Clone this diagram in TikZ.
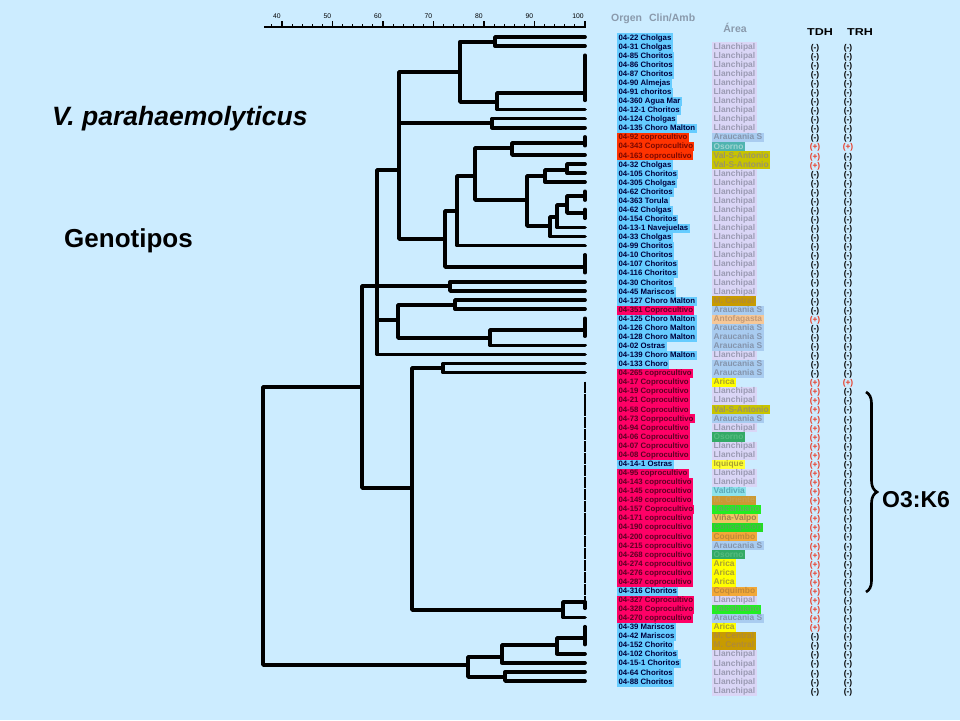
\documentclass[tikz,border=0pt]{standalone}
\usepackage{fontspec}
\usepackage{graphicx}
\setmainfont{Liberation Sans}
\usetikzlibrary{decorations.pathreplacing}
\definecolor{bgc}{HTML}{CCECFF}
\definecolor{obb}{HTML}{66CCFF}\definecolor{otb}{HTML}{00003C}
\definecolor{obo}{HTML}{FF3300}\definecolor{oto}{HTML}{7A0800}
\definecolor{obm}{HTML}{FF0066}\definecolor{otm}{HTML}{5C0022}
\definecolor{abll}{HTML}{DAD6F6}\definecolor{atll}{HTML}{9A9AB2}
\definecolor{abar}{HTML}{A9CCF0}\definecolor{atar}{HTML}{8494AC}
\definecolor{abos}{HTML}{4FB4B0}\definecolor{atos}{HTML}{9FD4D0}
\definecolor{abva}{HTML}{C8C400}\definecolor{atva}{HTML}{9A9468}
\definecolor{abmc}{HTML}{C89B00}\definecolor{atmc}{HTML}{B08A38}
\definecolor{aban}{HTML}{F6C898}\definecolor{atan}{HTML}{C29A78}
\definecolor{abri}{HTML}{FFFF00}\definecolor{atri}{HTML}{A8A030}
\definecolor{abgr}{HTML}{33AA66}\definecolor{atgr}{HTML}{55BB80}
\definecolor{abiq}{HTML}{FFFF33}\definecolor{atiq}{HTML}{A8A030}
\definecolor{abvd}{HTML}{8EE4EC}\definecolor{atvd}{HTML}{5AA8B8}
\definecolor{abmo}{HTML}{CC9933}\definecolor{atmo}{HTML}{C8A050}
\definecolor{abta}{HTML}{22EE22}\definecolor{atta}{HTML}{60B060}
\definecolor{abvv}{HTML}{F2C462}\definecolor{atvv}{HTML}{A08050}
\definecolor{abco}{HTML}{22DD22}\definecolor{atco}{HTML}{50B050}
\definecolor{abcq}{HTML}{F2A838}\definecolor{atcq}{HTML}{C08838}
\definecolor{hdrgray}{HTML}{8A9AAC}
\definecolor{plusred}{HTML}{E83C28}
\begin{document}
\begin{tikzpicture}[x=1pt,y=-1pt,
  dend/.style={line width=3.7pt,line cap=round,line join=round},
  clus/.style={line width=3.3pt,line cap=round},
  org/.style={anchor=west,inner xsep=1.3pt,inner ysep=0pt,minimum height=9.07pt,font=\fontsize{7.8}{8}\selectfont\bfseries,text height=5.7pt,text depth=1.4pt},
  area/.style={anchor=west,inner xsep=1.4pt,inner ysep=0pt,minimum height=9.07pt,font=\fontsize{8.4}{9}\selectfont\bfseries,text height=6.1pt,text depth=1.6pt},
  sgn/.style={font=\fontsize{8.4}{9}\selectfont\bfseries,inner sep=0pt},
  hdr/.style={font=\fontsize{10.5}{12}\selectfont\bfseries,text=hdrgray,inner sep=0pt},
  big/.style={inner sep=0pt,anchor=west}]
\useasboundingbox (0,0) rectangle (960,720);
\fill[bgc] (0,0) rectangle (960,720);

% titles
\node[big,font=\fontsize{26.5}{30}\selectfont\bfseries\itshape] (title) at (52,119) {V. parahaemolyticus};
\node[big,font=\fontsize{26}{30}\selectfont\bfseries] (geno) at (64,241) {Genotipos};
\node[big,font=\fontsize{23}{26}\selectfont\bfseries] (o3k6) at (882,500) {O3:K6};

% scale
\draw[line width=1.8pt] (264,27) -- (586,27);
\foreach \u in {38,40,...,100} \draw[line width=1.1pt] ({282+(\u-40)*5.05},27) -- ({282+(\u-40)*5.05},23.5);
\foreach \u in {40,50,...,100}{
  \draw[line width=1.2pt] ({282+(\u-40)*5.05},27) -- ({282+(\u-40)*5.05},21);
  \node[anchor=east,inner sep=0pt,font=\fontsize{6.8}{7}\selectfont] (s\u) at ({282+(\u-40)*5.05-1.2},16.5) {\u};
}

% headers
\node[hdr,anchor=west] (hOrg) at (611,19) {Orgen\hspace{7pt}Clin/Amb};
\node[hdr] (hArea) at (735,28) {Área};
\node[font=\fontsize{10}{11}\selectfont\bfseries,inner sep=0pt] (hTDH) at (820,32) {\scalebox{1.25}[1]{TDH}};
\node[font=\fontsize{10}{11}\selectfont\bfseries,inner sep=0pt] (hTRH) at (860,32) {\scalebox{1.25}[1]{TRH}};

% origin labels
\foreach \t/\c [count=\i] in {04-22 Cholgas/b,04-31 Cholgas/b,04-85 Choritos/b,04-86 Choritos/b,04-87 Choritos/b,04-90 Almejas/b,04-91 choritos/b,04-360 Agua Mar/b,04-12-1 Choritos/b,04-124 Cholgas/b,04-135 Choro Malton/b,04-92 coprocultivo/o,04-343 Coprocultivo/o,04-163 coprocultivo/o,04-32 Cholgas/b,04-105 Choritos/b,04-305 Cholgas/b,04-62 Choritos/b,04-363 Torula/b,04-62 Cholgas/b,04-154 Choritos/b,04-13-1 Navejuelas/b,04-33 Cholgas/b,04-99 Choritos/b,04-10 Choritos/b,04-107 Choritos/b,04-116 Choritos/b,04-30 Choritos/b,04-45 Mariscos/b,04-127 Choro Malton/b,04-351 Coprocultivo/m,04-125 Choro Malton/b,04-126 Choro Malton/b,04-128 Choro Malton/b,04-02 Ostras/b,04-139 Choro Malton/b,04-133 Choro/b,04-265 coprocultivo/m,04-17 Coprocultivo/m,04-19 Coprocultivo/m,04-21 Coprocultivo/m,04-58 Coprocultivo/m,04-73 Coprpocultivo/m,04-94 Coprocultivo/m,04-06 Coprocultivo/m,04-07 Coprocultivo/m,04-08 Coprocultivo/m,04-14-1 Ostras/b,04-95 coprocultivo/m,04-143 coprocultivo/m,04-145 coprocultivo/m,04-149 coprocultivo/m,04-157 Coprocultivo/m,04-171 coprocultivo/m,04-190 coprocultivo/m,04-200 coprocultivo/m,04-215 coprocultivo/m,04-268 coprocultivo/m,04-274 coprocultivo/m,04-276 coprocultivo/m,04-287 coprocultivo/m,04-316 Choritos/b,04-327 Coprocultivo/m,04-328 Coprocultivo/m,04-270 coprocultivo/m,04-39 Mariscos/b,04-42 Mariscos/b,04-152 Chorito/b,04-102 Choritos/b,04-15-1 Choritos/b,04-64 Choritos/b,04-88 Choritos/b}
  \node[org,fill=ob\c,text=ot\c] (o\i) at (617,{38+(\i-1)*9.07}) {\t};

% area labels
\foreach \t/\c [count=\j] in {Llanchipal/ll,Llanchipal/ll,Llanchipal/ll,Llanchipal/ll,Llanchipal/ll,Llanchipal/ll,Llanchipal/ll,Llanchipal/ll,Llanchipal/ll,Llanchipal/ll,Araucania S/ar,Osorno/os,Val-S-Antonio/va,Val-S-Antonio/va,Llanchipal/ll,Llanchipal/ll,Llanchipal/ll,Llanchipal/ll,Llanchipal/ll,Llanchipal/ll,Llanchipal/ll,Llanchipal/ll,Llanchipal/ll,Llanchipal/ll,Llanchipal/ll,Llanchipal/ll,Llanchipal/ll,Llanchipal/ll,M. Central/mc,Araucania S/ar,Antofagasta/an,Araucania S/ar,Araucania S/ar,Araucania S/ar,Llanchipal/ll,Araucania S/ar,Araucania S/ar,Arica/ri,Llanchipal/ll,Llanchipal/ll,Val-S-Antonio/va,Araucania S/ar,Llanchipal/ll,Osorno/gr,Llanchipal/ll,Llanchipal/ll,Iquique/iq,Llanchipal/ll,Llanchipal/ll,Valdivia/vd,M. Oriente/mo,Talcahuano/ta,Viña-Valpo/vv,Concepcion/co,Coquimbo/cq,Araucania S/ar,Osorno/gr,Arica/ri,Arica/ri,Arica/ri,Coquimbo/cq,Llanchipal/ll,Talcahuano/ta,Araucania S/ar,Arica/ri,M. Central/mc,M. Central/mc,Llanchipal/ll,Llanchipal/ll,Llanchipal/ll,Llanchipal/ll,Llanchipal/ll}
  \node[area,fill=ab\c,text=at\c] (a\j) at (712,{47+(\j-1)*9.07}) {\t};

% TDH / TRH
\foreach \j in {1,...,72}{
  \pgfmathtruncatemacro\tp{(\j==12)||(\j==13)||(\j==14)||(\j==31)||((\j>37)&&(\j<66))}
  \pgfmathtruncatemacro\rp{(\j==12)||(\j==38)}
  \node[sgn] (td\j) at (815,{48+(\j-1)*9.07}) {\ifnum\tp=1 \textcolor{plusred}{(+)}\else (-)\fi};
  \node[sgn] (tr\j) at (848,{48+(\j-1)*9.07}) {\ifnum\rp=1 \textcolor{plusred}{(+)}\else (-)\fi};
}

% brace
\coordinate (brTop) at (866,392);
\coordinate (brBot) at (866,592);
\draw[decorate,decoration={brace,amplitude=11pt},line width=2.6pt] (brTop) -- (brBot);

% dendrogram coordinates
\foreach \i in {1,...,72} \coordinate (L\i) at (585,{37+(\i-1)*9.07});
\coordinate (K3) at (585,93);
\coordinate (K12) at (585,143);
\coordinate (K18) at (585,196);
\coordinate (K20) at (585,213);
\coordinate (K25) at (585,267);
\coordinate (K32) at (585,330);
\coordinate (K39) at (585,602);
\coordinate (K66) at (585,638);
\coordinate (N1) at (495,41.7);
\coordinate (N2) at (497,102);
\coordinate (N3) at (460,72);
\coordinate (N4) at (492,123);
\coordinate (N5) at (512,148);
\coordinate (N6) at (567,170);
\coordinate (N7) at (545,176);
\coordinate (N8) at (567,205);
\coordinate (N9) at (557,217);
\coordinate (N10) at (550,226);
\coordinate (N11) at (527,200);
\coordinate (N12) at (475,176);
\coordinate (N13) at (457,211);
\coordinate (N14) at (445,239);
\coordinate (N15) at (399,170);
\coordinate (N16) at (450,286);
\coordinate (N17) at (455,305);
\coordinate (N18) at (490,338);
\coordinate (N19) at (398,320);
\coordinate (N20) at (377,286);
\coordinate (N21) at (443,368);
\coordinate (N22) at (563,610);
\coordinate (N23) at (412,488);
\coordinate (N24) at (362,387);
\coordinate (N25) at (557,645);
\coordinate (N26) at (502,657);
\coordinate (N27) at (505,677);
\coordinate (N28) at (468,665);
\coordinate (N29) at (263,526);

\draw[clus] (L3)--(L8) (L12)--(L13) (L18)--(L19) (L20)--(L21) (L25)--(L27) (L32)--(L34) (L66)--(L68);
\draw[line width=2.7pt,dash pattern=on 11pt off 0.9pt] (L39)--(K39);
\draw[dend]
  (N1)|-(L1) (N1)|-(L2)
  (N2)|-(K3) (N2)|-(L9)
  (N3)|-(N1) (N3)|-(N2)
  (N4)|-(L10) (N4)|-(L11)
  (N5)|-(K12) (N5)|-(L14)
  (N6)|-(L15) (N6)|-(L16)
  (N7)|-(N6) (N7)|-(L17)
  (N8)|-(K18) (N8)|-(K20)
  (N9)|-(N8) (N9)|-(L22)
  (N10)|-(N9) (N10)|-(L23)
  (N11)|-(N7) (N11)|-(N10)
  (N12)|-(N5) (N12)|-(N11)
  (N13)|-(N12) (N13)|-(L24)
  (N14)|-(N13) (N14)|-(K25)
  (N15)|-(N3) (N15)|-(N4) (N15)|-(N14)
  (N16)|-(L28) (N16)|-(L29)
  (N17)|-(L30) (N17)|-(L31)
  (N18)|-(K32) (N18)|-(L35)
  (N19)|-(N17) (N19)|-(N18)
  (N20)|-(N15) (N20)|-(N16) (N20)|-(N19) (N20)|-(L36)
  (N21)|-(L37) (N21)|-(L38)
  (N22)|-(K39) (N22)|-(L65)
  (N23)|-(N21) (N23)|-(N22)
  (N24)|-(N20) (N24)|-(N23)
  (N25)|-(K66) (N25)|-(L69)
  (N26)|-(N25) (N26)|-(L70)
  (N27)|-(L71) (N27)|-(L72)
  (N28)|-(N26) (N28)|-(N27)
  (N29)|-(N24) (N29)|-(N28);
\draw[clus] (K39)--(L64);
\end{tikzpicture}
\end{document}
